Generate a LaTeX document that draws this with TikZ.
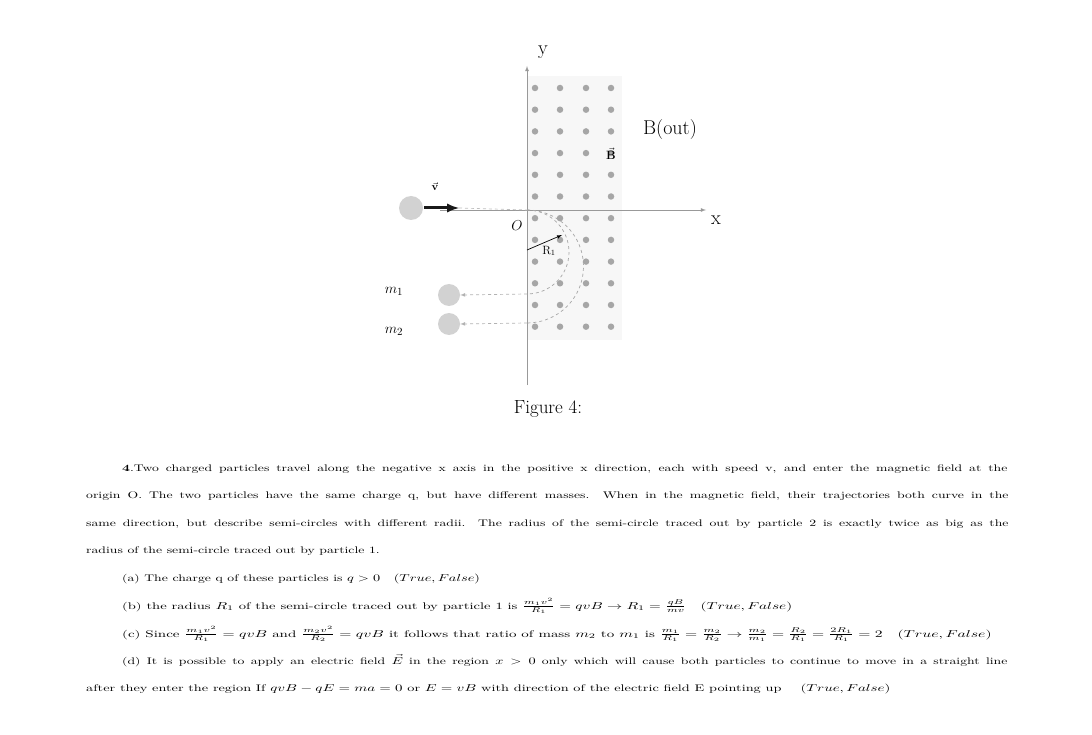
\documentclass[tikz,border=0pt]{standalone}
\usepackage{amsmath}
\newcommand{\hs}[2][1.43]{\scalebox{#1}[1]{#2}}
\tikzset{
  dot/.style={circle,fill=gray!70,inner sep=0pt,minimum size=6.5pt},
  ball/.style={circle,fill=gray!35,inner sep=0pt},
  traj/.style={dashed,gray!70,line width=0.7pt},
  txt/.style={anchor=base west,inner sep=0pt,font=\fontsize{9.6}{11}\selectfont},
}
\begin{document}
\begin{tikzpicture}[x=1pt,y=-1pt]
\useasboundingbox (0,0) rectangle (1092,735);
% field region
\fill[gray!6] (527,76) rectangle (622,340);
\foreach \yy in {88,109.7,...,330}{\foreach \xx in {535,560,586,611}{\node[dot] at (\xx,\yy) {};}}
% axes
\coordinate (O) at (527,210);
\draw[gray!80,line width=0.8pt,-latex] (527,385) -- (527,66);
\draw[gray!80,line width=0.8pt,-latex] (440,210) -- (706,210);
\node (ylab) at (543,52) {\fontsize{20}{20}\selectfont y};
\node (xlab) at (716,220) {\fontsize{20}{20}\selectfont x};
\node (olab) at (517,226) {\fontsize{14}{14}\selectfont $O$};
\node (bout) at (670,130) {\fontsize{20}{20}\selectfont B(out)};
\node (bvec) at (611,154) {\fontsize{13}{13}\selectfont $\vec{\mathbf B}$};
% incoming particle
\node[ball,minimum size=24pt] (p0) at (411,208) {};
\coordinate (a0) at (424,208);
\coordinate (a1) at (459,208);
\draw[line width=3pt,gray!20!black,-latex] (a0) -- (a1);
\draw[traj,gray!50] (a1) -- (O);
\node (vlab) at (435,187) {\fontsize{11}{11}\selectfont $\vec{\mathbf v}$};
% trajectories
\draw[traj] (O) arc[start angle=-90,end angle=90,radius=42];
\draw[traj] (O) arc[start angle=-90,end angle=90,radius=56.5];
\coordinate (r1a) at (527,250);
\coordinate (r1b) at (562,235);
\draw[-latex,line width=0.7pt] (r1a) -- (r1b);
\node (r1) at (549,251) {\fontsize{12}{12}\selectfont R$_1$};
% outgoing
\node[ball,minimum size=22pt] (m1) at (449,295) {};
\node[ball,minimum size=22pt] (m2) at (449,324) {};
\coordinate (e1) at (527,294);
\coordinate (e2) at (527,323);
\draw[traj,gray!60,-latex] (e1) -- (m1.east);
\draw[traj,gray!60,-latex] (e2) -- (m2.east);
\node (m1l) at (394,291) {\fontsize{15}{15}\selectfont $m_1$};
\node (m2l) at (394,331) {\fontsize{15}{15}\selectfont $m_2$};
% caption
\node (cap) at (548,409) {\fontsize{19}{19}\selectfont Figure 4:};
% text
\node[txt] (l1) at (122,471) {\hs{\makebox[619pt][s]{\textbf{4}.Two charged particles travel along the negative x axis in the positive x direction, each with speed v, and enter the magnetic field at the}}};
\node[txt] (l2) at (86,498) {\hs{\makebox[645pt][s]{origin O. The two particles have the same charge q, but have different masses. When in the magnetic field, their trajectories both curve in the}}};
\node[txt] (l3) at (86,526) {\hs{\makebox[645pt][s]{same direction, but describe semi-circles with different radii. The radius of the semi-circle traced out by particle 2 is exactly twice as big as the}}};
\node[txt] (l4) at (86,553) {\hs{radius of the semi-circle traced out by particle 1.}};
\node[txt] (la) at (122,581) {\hs{(a) The charge q of these particles is $q>0$ \ \ $(True,False)$}};
\node[txt] (lb) at (122,609) {\hs[1.52]{(b) the radius $R_1$ of the semi-circle traced out by particle 1 is $\frac{m_1v^2}{R_1}=qvB\rightarrow R_1=\frac{qB}{mv}$ \ \ $(True,False)$}};
\node[txt] (lc) at (122,637) {\hs[1.56]{(c) Since $\frac{m_1v^2}{R_1}=qvB$ and $\frac{m_2v^2}{R_2}=qvB$ it follows that ratio of mass $m_2$ to $m_1$ is $\frac{m_1}{R_1}=\frac{m_2}{R_2}\rightarrow\frac{m_2}{m_1}=\frac{R_2}{R_1}=\frac{2R_1}{R_1}=2$ \ \ $(True,False)$}};
\node[txt] (ld) at (122,664) {\hs{\makebox[619pt][s]{(d) It is possible to apply an electric field $\vec{E}$ in the region $x>0$ only which will cause both particles to continue to move in a straight line}}};
\node[txt] (le) at (86,691) {\hs[1.49]{after they enter the region If $qvB-qE=ma=0$ or $E=vB$ with direction of the electric field E pointing up \ \ \ $(True,False)$}};
\end{tikzpicture}
\end{document}
